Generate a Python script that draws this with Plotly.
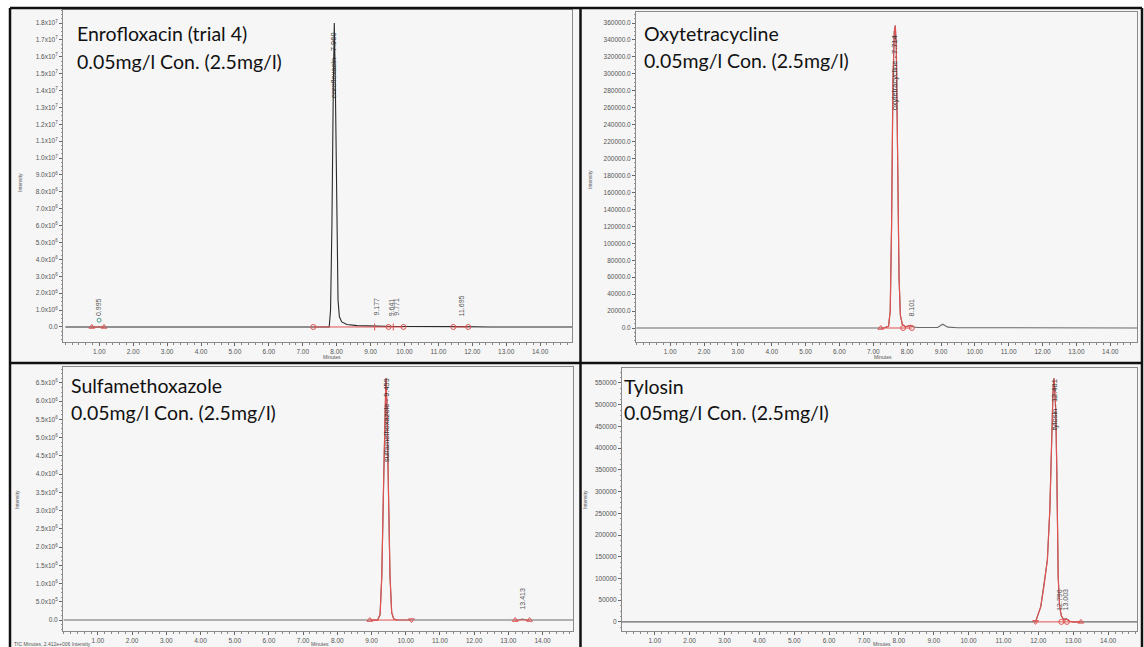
import plotly.graph_objects as go

W, H = 1144, 647

# ---------------- data ----------------
X_TICK_VALS = [1, 2, 3, 4, 5, 6, 7, 8, 9, 10, 11, 12, 13, 14]
X_TICK_TEXT = ["1.00", "2.00", "3.00", "4.00", "5.00", "6.00", "7.00",
               "8.00", "9.00", "10.00", "11.00", "12.00", "13.00", "14.00"]

# Panel 1 : Enrofloxacin (trial 4)
ENRO_T = [0.00, 0.85, 0.995, 1.10, 7.30, 7.78, 7.82, 7.86, 7.90, 7.93, 7.96, 8.00,
          8.04, 8.08, 8.15, 8.30, 8.60, 9.18, 9.70, 11.70, 12.50, 15.00]
ENRO_I = [0, 0, 3.0e4, 0, 0, 0, 1.0e6, 6.0e6, 1.40e7, 1.80e7, 1.45e7, 6.0e6,
          1.6e6, 6.0e5, 3.0e5, 1.5e5, 8.0e4, 5.0e4, 3.0e4, 2.0e4, 0, 0]
ENRO_APEX = 7.93
ENRO_LABEL = "enrofloxacin - 7.960"
ENRO_MINOR_RT = [0.995, 9.177, 9.641, 9.771, 11.695]
ENRO_MINOR_TEXT = ["0.995", "9.177", "9.641", "9.771", "11.695"]
ENRO_BASE = [(0.78, 1.14), (7.31, 9.97), (11.44, 11.88)]
ENRO_MARK_T = [0.78, 1.14, 7.31, 9.12, 9.53, 9.67, 9.97, 11.44, 11.88]
ENRO_MARK_SYM = ["triangle-up-open", "triangle-up-open", "circle-open", "line-ns-open",
                 "circle-open", "line-ns-open", "circle-open", "circle-open", "circle-open"]
ENRO_YTICK_VALS = [0, 1e6, 2e6, 3e6, 4e6, 5e6, 6e6, 7e6, 8e6, 9e6, 1e7, 1.1e7, 1.2e7,
                   1.3e7, 1.4e7, 1.5e7, 1.6e7, 1.7e7, 1.8e7]
ENRO_YTICK_TEXT = ["0.0", "1.0x10<sup>6</sup>", "2.0x10<sup>6</sup>", "3.0x10<sup>6</sup>",
                   "4.0x10<sup>6</sup>", "5.0x10<sup>6</sup>", "6.0x10<sup>6</sup>",
                   "7.0x10<sup>6</sup>", "8.0x10<sup>6</sup>", "9.0x10<sup>6</sup>",
                   "1.0x10<sup>7</sup>", "1.1x10<sup>7</sup>", "1.2x10<sup>7</sup>",
                   "1.3x10<sup>7</sup>", "1.4x10<sup>7</sup>", "1.5x10<sup>7</sup>",
                   "1.6x10<sup>7</sup>", "1.7x10<sup>7</sup>", "1.8x10<sup>7</sup>"]

# Panel 2 : Oxytetracycline
OXY_T = [0.00, 7.00, 7.30, 7.45, 7.50, 7.54, 7.58, 7.62, 7.65, 7.68, 7.72, 7.76, 7.80,
         7.86, 7.95, 8.05, 8.10, 8.16, 8.30, 8.90, 9.05, 9.20, 9.50, 15.00]
OXY_I = [0, 0, 0, 2000, 20000, 120000, 290000, 350000, 357000, 330000, 200000, 60000,
         15000, 4000, 1500, 2500, 3000, 1500, 500, 500, 4500, 1000, 300, 0]
OXY_APEX = 7.65
OXY_RED = (7.25, 8.20)
OXY_LABEL = "oxytetracycline - 7.714"
OXY_MINOR_RT = [8.101]
OXY_MINOR_TEXT = ["8.101"]
OXY_BASE = [(7.22, 8.14)]
OXY_MARK_T = [7.22, 7.88, 8.14]
OXY_MARK_SYM = ["triangle-up-open", "circle-open", "circle-open"]
OXY_YTICK_VALS = [0, 20000, 40000, 60000, 80000, 100000, 120000, 140000, 160000, 180000,
                  200000, 220000, 240000, 260000, 280000, 300000, 320000, 340000, 360000]
OXY_YTICK_TEXT = ["0.0", "20000.0", "40000.0", "60000.0", "80000.0", "100000.0",
                  "120000.0", "140000.0", "160000.0", "180000.0", "200000.0", "220000.0",
                  "240000.0", "260000.0", "280000.0", "300000.0", "320000.0", "340000.0",
                  "360000.0"]

# Panel 3 : Sulfamethoxazole
SULFA_T = [0.00, 9.00, 9.18, 9.25, 9.30, 9.35, 9.39, 9.42, 9.45, 9.49, 9.54, 9.59,
           9.65, 9.75, 13.30, 13.41, 13.52, 15.00]
SULFA_I = [0, 0, 0, 1.5e5, 1.2e6, 3.6e6, 5.8e6, 6.62e6, 5.9e6, 3.6e6, 1.2e6, 2.0e5,
           3.0e4, 0, 0, 3.0e4, 0, 0]
SULFA_APEX = 9.42
SULFA_RED = (8.95, 10.20)
SULFA_LABEL = "sulfamethoxazole - 9.459"
SULFA_MINOR_RT = [13.413]
SULFA_MINOR_TEXT = ["13.413"]
SULFA_BASE = [(8.95, 10.17), (13.20, 13.62)]
SULFA_MARK_T = [8.95, 10.17, 13.20, 13.62]
SULFA_MARK_SYM = ["triangle-up-open", "triangle-down-open", "triangle-up-open", "triangle-up-open"]
SULFA_YTICK_VALS = [0, 5e5, 1e6, 1.5e6, 2e6, 2.5e6, 3e6, 3.5e6, 4e6, 4.5e6, 5e6, 5.5e6, 6e6, 6.5e6]
SULFA_YTICK_TEXT = ["0.0", "5.0x10<sup>5</sup>", "1.0x10<sup>6</sup>", "1.5x10<sup>6</sup>",
                    "2.0x10<sup>6</sup>", "2.5x10<sup>6</sup>", "3.0x10<sup>6</sup>",
                    "3.5x10<sup>6</sup>", "4.0x10<sup>6</sup>", "4.5x10<sup>6</sup>",
                    "5.0x10<sup>6</sup>", "5.5x10<sup>6</sup>", "6.0x10<sup>6</sup>",
                    "6.5x10<sup>6</sup>"]

# Panel 4 : Tylosin
TYL_T = [0.00, 11.80, 11.92, 12.07, 12.16, 12.26, 12.33, 12.38, 12.42, 12.45, 12.50,
         12.53, 12.55, 12.57, 12.61, 12.66, 12.72, 12.80, 12.90, 13.00, 13.20, 15.00]
TYL_I = [0, 0, 0, 35000, 81000, 143000, 258000, 412000, 527000, 561000, 488000,
         350000, 220000, 104000, 35000, 14000, 6000, 7000, 1500, 0, 0, 0]
TYL_APEX = 12.45
TYL_RED = (11.85, 13.30)
TYL_LABEL = "tylosin - 12.481"
TYL_MINOR_RT = [12.62, 12.78]
TYL_MINOR_TEXT = ["12.790", "13.003"]
TYL_BASE = [(11.92, 13.22)]
TYL_MARK_T = [11.92, 12.66, 12.82, 13.22]
TYL_MARK_SYM = ["triangle-down-open", "circle-open", "circle-open", "triangle-up-open"]
TYL_YTICK_VALS = [0, 50000, 100000, 150000, 200000, 250000, 300000, 350000, 400000,
                  450000, 500000, 550000]
TYL_YTICK_TEXT = ["0", "50000", "100000", "150000", "200000", "250000", "300000",
                  "350000", "400000", "450000", "500000", "550000"]

TITLES = [("Enrofloxacin (trial 4)", "0.05mg/l Con. (2.5mg/l)"),
          ("Oxytetracycline", "0.05mg/l Con. (2.5mg/l)"),
          ("Sulfamethoxazole", "0.05mg/l Con. (2.5mg/l)"),
          ("Tylosin", "0.05mg/l Con. (2.5mg/l)")]

# ---------------- layout geometry (pixels) ----------------
RED = "#e05252"
TICKFONT = dict(family="Liberation Sans", size=6.5, color="#555555")


def px_x(p):
    return p / W


def px_y(p):
    return 1 - p / H


panels = [
    dict(t=ENRO_T, i=ENRO_I, apex=ENRO_APEX, label=ENRO_LABEL, minor_rt=ENRO_MINOR_RT,
         minor_text=ENRO_MINOR_TEXT, base=ENRO_BASE, mark_t=ENRO_MARK_T, mark_sym=ENRO_MARK_SYM,
         yv=ENRO_YTICK_VALS, yt=ENRO_YTICK_TEXT, color="#2a2a2a", red=None,
         dom=(63, 572, 10, 342), xr=(-0.07, 14.94), yr=(-0.89e6, 1.877e7), ydt=2.5e5,
         title_xy=(75, 33, 61), label_y=65, ytitle=(20, 183), xtitle=(332, 357)),
    dict(t=OXY_T, i=OXY_I, apex=OXY_APEX, label=OXY_LABEL, minor_rt=OXY_MINOR_RT,
         minor_text=OXY_MINOR_TEXT, base=OXY_BASE, mark_t=OXY_MARK_T, mark_sym=OXY_MARK_SYM,
         yv=OXY_YTICK_VALS, yt=OXY_YTICK_TEXT, color="#6a6a6a", red=OXY_RED,
         dom=(636, 1137, 12, 342), xr=(-0.01, 14.79), yr=(-16530, 373000), ydt=5000,
         title_xy=(642, 33, 60), label_y=73, ytitle=(590, 180), xtitle=(883, 357)),
    dict(t=SULFA_T, i=SULFA_I, apex=SULFA_APEX, label=SULFA_LABEL, minor_rt=SULFA_MINOR_RT,
         minor_text=SULFA_MINOR_TEXT, base=SULFA_BASE, mark_t=SULFA_MARK_T, mark_sym=SULFA_MARK_SYM,
         yv=SULFA_YTICK_VALS, yt=SULFA_YTICK_TEXT, color="#6a6a6a", red=SULFA_RED,
         dom=(63, 573, 367, 631), xr=(-0.02, 14.89), yr=(-300000, 6.937e6), ydt=1.25e5,
         title_xy=(69, 385, 412), label_y=420, ytitle=(17, 500), xtitle=(320, 643.5)),
    dict(t=TYL_T, i=TYL_I, apex=TYL_APEX, label=TYL_LABEL, minor_rt=TYL_MINOR_RT,
         minor_text=TYL_MINOR_TEXT, base=TYL_BASE, mark_t=TYL_MARK_T, mark_sym=TYL_MARK_SYM,
         yv=TYL_YTICK_VALS, yt=TYL_YTICK_TEXT, color="#6a6a6a", red=TYL_RED,
         dom=(622, 1137, 368, 631), xr=(0.06, 14.83), yr=(-21000, 584500), ydt=12500,
         title_xy=(622, 386, 412), label_y=405, ytitle=(585, 500), xtitle=(881.5, 643.5)),
]

fig = go.Figure()
layout = dict(width=W, height=H, margin=dict(l=0, r=0, t=0, b=0),
              paper_bgcolor="#ffffff", plot_bgcolor="#efefef", showlegend=False)
annotations = []
shapes = []

# panel backgrounds
for (x0, y0, x1, y1) in [(10, 8, 580, 363), (580, 8, 1142, 363), (10, 363, 580, 647), (580, 363, 1142, 647)]:
    shapes.append(dict(type="rect", xref="paper", yref="paper", x0=px_x(x0), x1=px_x(x1),
                       y0=px_y(y1), y1=px_y(y0), fillcolor="#f6f6f6", line=dict(width=0), layer="below"))

for k, p in enumerate(panels, start=1):
    xa = "x" if k == 1 else f"x{k}"
    ya = "y" if k == 1 else f"y{k}"
    xl, xr_, yt_, yb = p["dom"]
    layout[f"xaxis{'' if k == 1 else k}"] = dict(
        domain=[px_x(xl), px_x(xr_)], range=list(p["xr"]), anchor=ya,
        tickmode="array", tickvals=X_TICK_VALS, ticktext=X_TICK_TEXT,
        ticks="outside", ticklen=3, tickcolor="#666", tickfont=TICKFONT,
        minor=dict(dtick=0.2, tick0=0, ticks="outside", ticklen=2, tickcolor="#888"),
        showgrid=False, zeroline=False, showline=True, mirror=True,
        linecolor="#8a8a8a", linewidth=1, fixedrange=True)
    layout[f"yaxis{'' if k == 1 else k}"] = dict(
        domain=[px_y(yb), px_y(yt_)], range=list(p["yr"]), anchor=xa,
        tickmode="array", tickvals=p["yv"], ticktext=p["yt"],
        ticks="outside", ticklen=3, tickcolor="#666", tickfont=TICKFONT,
        minor=dict(dtick=p["ydt"], tick0=0, ticks="outside", ticklen=1.5, tickcolor="#999"),
        showgrid=False, zeroline=False, showline=True, mirror=True,
        linecolor="#8a8a8a", linewidth=1, fixedrange=True)

    # full trace
    fig.add_trace(go.Scatter(x=p["t"], y=p["i"], mode="lines", xaxis=xa, yaxis=ya,
                             line=dict(color=p["color"], width=1.1), hoverinfo="skip"))
    # integrated peak drawn in red
    if p["red"] is not None:
        lo, hi = p["red"]
        rt = [t for t in p["t"] if lo <= t <= hi]
        ri = [v for t, v in zip(p["t"], p["i"]) if lo <= t <= hi]
        fig.add_trace(go.Scatter(x=rt, y=ri, mode="lines", xaxis=xa, yaxis=ya,
                                 line=dict(color=RED, width=1.2), hoverinfo="skip"))
    # integration baselines
    for (a, b) in p["base"]:
        fig.add_trace(go.Scatter(x=[a, b], y=[0, 0], mode="lines", xaxis=xa, yaxis=ya,
                                 line=dict(color=RED, width=1), hoverinfo="skip"))
    fig.add_trace(go.Scatter(x=p["mark_t"], y=[0] * len(p["mark_t"]), mode="markers",
                             xaxis=xa, yaxis=ya, hoverinfo="skip",
                             marker=dict(symbol=p["mark_sym"], size=5, color=RED,
                                         line=dict(color=RED, width=1))))

    # main peak label (rotated along the peak)
    annotations.append(dict(xref=xa, yref="paper", x=p["apex"], y=px_y(p["label_y"]),
                            text=p["label"], textangle=-90, showarrow=False,
                            xanchor="center", yanchor="middle",
                            font=dict(family="Liberation Sans", size=7.5, color="#333333")))
    # minor peak labels
    for rt, txt in zip(p["minor_rt"], p["minor_text"]):
        annotations.append(dict(xref=xa, yref=ya, x=rt, y=0, yshift=9, text=txt,
                                textangle=-90, showarrow=False, xanchor="center",
                                yanchor="bottom",
                                font=dict(family="Liberation Sans", size=7, color="#555555")))

    # titles
    tx, ty1, ty2 = p["title_xy"]
    t1, t2 = TITLES[k - 1]
    for txt, ty in ((t1, ty1), (t2, ty2)):
        annotations.append(dict(xref="paper", yref="paper", x=px_x(tx), y=px_y(ty),
                                text=txt, showarrow=False, xanchor="left", yanchor="middle",
                                font=dict(family="Lato", size=19.5, color="#111111")))
    # axis titles
    annotations.append(dict(xref="paper", yref="paper", x=px_x(p["ytitle"][0]),
                            y=px_y(p["ytitle"][1]), text="Intensity", textangle=-90,
                            showarrow=False, xanchor="center", yanchor="middle",
                            font=dict(family="Liberation Sans", size=5, color="#555555")))
    annotations.append(dict(xref="paper", yref="paper", x=px_x(p["xtitle"][0]),
                            y=px_y(p["xtitle"][1]), text="Minutes", showarrow=False,
                            xanchor="center", yanchor="middle",
                            font=dict(family="Liberation Sans", size=5, color="#555555")))

# small apex marker for the 0.995 peak
fig.add_trace(go.Scatter(x=[ENRO_MINOR_RT[0]], y=[4e5], mode="markers", xaxis="x", yaxis="y",
                         hoverinfo="skip",
                         marker=dict(symbol="circle-open", size=4, color="#4a9a8a")))

annotations.append(dict(xref="paper", yref="paper", x=px_x(12), y=px_y(643.5),
                        text="TIC Minutes, 2.412e+006 Intensity", showarrow=False,
                        xanchor="left", yanchor="middle",
                        font=dict(family="Liberation Sans", size=5, color="#555555")))

# thick outer frame and dividers
for (x0, y0, x1, y1) in [(10, 8, 1142, 8), (10, 8, 10, 647), (1142, 8, 1142, 647),
                         (10, 363, 1142, 363), (580.5, 8, 580.5, 647)]:
    shapes.append(dict(type="line", xref="paper", yref="paper", x0=px_x(x0), x1=px_x(x1),
                       y0=px_y(y0), y1=px_y(y1), line=dict(color="#111111", width=2.5),
                       layer="above"))

layout["annotations"] = annotations
layout["shapes"] = shapes
fig.update_layout(**layout)
fig.write_html("out.html", config={"displayModeBar": False},
               post_script="document.body.style.margin='0';document.body.style.padding='0';"
                           "document.body.style.overflow='hidden';")
